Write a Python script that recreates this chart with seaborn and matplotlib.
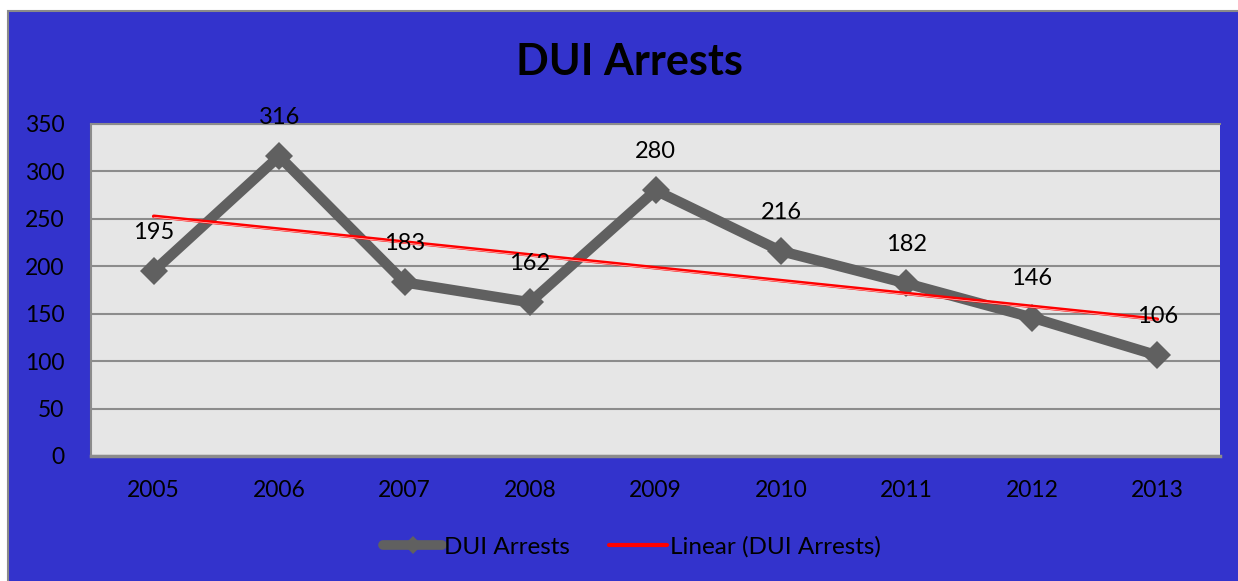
import numpy as np
import pandas as pd
import matplotlib.pyplot as plt
import matplotlib.patheffects as pe
from matplotlib.lines import Line2D
from matplotlib.patches import Rectangle
import seaborn as sns

# datos
years = [2005, 2006, 2007, 2008, 2009, 2010, 2011, 2012, 2013]
arrests = [195, 316, 183, 162, 280, 216, 182, 146, 106]
y_ticks = [0, 50, 100, 150, 200, 250, 300, 350]

df = pd.DataFrame({"year": years, "arrests": arrests})

sns.set_style("white")
plt.rcParams["font.family"] = ["Lato", "DejaVu Sans"]
plt.rcParams["text.color"] = "black"

blue = "#3333CC"
gray_line = "#606060"

fig = plt.figure(figsize=(12.38, 5.81), dpi=100)
fig.patch.set_facecolor("white")

# fondo azul del area del grafico
fig.patches.append(Rectangle((8 / 1238, -0.1), 1.2, 1.1 - 11 / 581,
                             transform=fig.transFigure, facecolor=blue,
                             edgecolor="#8a8a8a", linewidth=1.5, zorder=-5))

ax = fig.add_axes([91 / 1238, 1 - 456 / 581, (1220 - 91) / 1238, (456 - 124) / 581])
ax.set_zorder(2)
ax.set_facecolor("#E6E6E6")

sns.lineplot(data=df, x="year", y="arrests", ax=ax, color=gray_line, linewidth=7.5,
             marker="D", markersize=14, markeredgewidth=0, zorder=3)

# linea de tendencia lineal
sns.regplot(data=df, x="year", y="arrests", ax=ax, scatter=False, ci=None, truncate=True,
            line_kws=dict(color="red", linewidth=2.6, zorder=4,
                          path_effects=[pe.Normal(),
                                        pe.Stroke(offset=(0, -0.7), linewidth=0.5,
                                                  foreground="#ffd0d0")]))

for x, y in zip(years, arrests):
    ax.annotate(str(y), (x, y), xytext=(0, 28), textcoords="offset points",
                ha="center", va="center", fontsize=17, color="black", zorder=5)

ax.set_xlim(2004.5, 2013.5)
ax.set_ylim(0, 350)
ax.set_xticks(years)
ax.set_xticklabels([str(y) for y in years])
ax.set_yticks(y_ticks)
ax.grid(axis="y", color="#8c8c8c", linewidth=1.5)
ax.set_axisbelow(True)
ax.tick_params(axis="both", length=0, labelsize=16.5, colors="black")
ax.tick_params(axis="y", pad=19)
ax.tick_params(axis="x", pad=17)
ax.set_xlabel("")
ax.set_ylabel("")
for side in ["left", "top", "bottom"]:
    ax.spines[side].set_color("#8c8c8c")
    ax.spines[side].set_linewidth(1.5)
ax.spines["bottom"].set_linewidth(2.5)
ax.spines["right"].set_visible(False)

fig.text(629 / 1238, 1 - 62 / 581, "DUI Arrests", ha="center", va="center",
         fontsize=31, fontweight="bold", color="black")

handles = [Line2D([], [], color=gray_line, linewidth=7, marker="D", markersize=9,
                  markeredgewidth=0, solid_capstyle="round"),
           Line2D([], [], color="red", linewidth=3, solid_capstyle="round")]
leg = fig.legend(handles, ["DUI Arrests", "Linear (DUI Arrests)"], loc="center",
                 bbox_to_anchor=(632 / 1238, 1 - 547 / 581), ncol=2, frameon=False,
                 fontsize=17.5, handlelength=2.4, handletextpad=0.1, columnspacing=1.6)
for t in leg.get_texts():
    t.set_color("black")

fig.savefig("out.png", dpi=100, facecolor=fig.get_facecolor())
